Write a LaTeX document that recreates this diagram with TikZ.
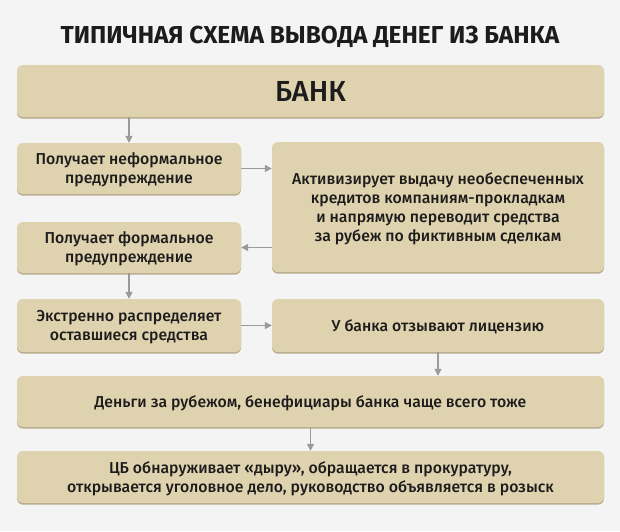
\documentclass[tikz,border=0pt]{standalone}
\usepackage{fontspec}
\setmainfont{Fira Sans}[UprightFont={Fira Sans Medium}, BoldFont={Fira Sans Bold}]
\usetikzlibrary{arrows.meta,shadows}
\definecolor{bgray}{HTML}{F4F4F4}
\definecolor{boxtan}{HTML}{DFD2AE}
\definecolor{shadetan}{HTML}{B7AB8C}
\definecolor{linegray}{HTML}{9A9A9A}
\definecolor{ink}{HTML}{1C1C1C}

\begin{document}
\begin{tikzpicture}[
            x = 1pt, y = -1pt,
            every node/.style={text depth=0pt, text=ink, font=\fontsize{15.8}{19}\selectfont},
            box/.style={rectangle, rounded corners=6pt, fill=boxtan, align=center, inner sep=0pt,
                        drop shadow={shadow xshift=0pt, shadow yshift=-1.6pt, fill=shadetan, opacity=1}},
            line/.style={draw=linegray, line width=1.3pt, -{Triangle[length=7pt, width=7pt]}},
            ]

        \useasboundingbox[fill=bgray] (0,0) rectangle (620,531);

        \node[font=\bfseries\fontsize{24.5}{28}\selectfont] (title) at (310, 35) {ТИПИЧНАЯ СХЕМА ВЫВОДА ДЕНЕГ ИЗ БАНКА};

        \node[box, minimum width=587pt, minimum height=52pt, font=\fontsize{29}{32}\selectfont] (bank) at (310.5, 91) {БАНК};
        \node[box, minimum width=224pt, minimum height=51pt] (warn1) at (129, 168.5) {Получает неформальное\\предупреждение};
        \node[box, minimum width=332pt, minimum height=130pt] (credit) at (438, 207) {Активизирует выдачу необеспеченных\\кредитов компаниям-прокладкам\\и напрямую переводит средства\\за рубеж по фиктивным сделкам};
        \node[box, minimum width=224pt, minimum height=51pt] (warn2) at (129, 247.5) {Получает формальное\\предупреждение};
        \node[box, minimum width=224pt, minimum height=53pt] (spread) at (129, 325.5) {Экстренно распределяет\\оставшиеся средства};
        \node[box, minimum width=332pt, minimum height=53pt] (licence) at (438, 325.5) {У банка отзывают лицензию};
        \node[box, minimum width=587pt, minimum height=51pt] (abroad) at (310.5, 401.5) {Деньги за рубежом, бенефициары банка чаще всего тоже};
        \node[box, minimum width=587pt, minimum height=52pt] (cb) at (310.5, 477) {ЦБ обнаруживает «дыру», обращается в прокуратуру,\\открывается уголовное дело, руководство объявляется в розыск};

        \draw[line] (bank.south -| warn1) -- (warn1.north);
        \draw[line] (warn1.east) -- (warn1.east -| credit.west);
        \draw[line] (warn2.east -| credit.west) -- (warn2.east);
        \draw[line] (warn2.south) -- (spread.north);
        \draw[line] (spread.east) -- (licence.west);
        \draw[line] (licence.south) -- (abroad.north -| licence);
        \draw[line] (abroad.south) -- (cb.north);
    \end{tikzpicture}
\end{document}
